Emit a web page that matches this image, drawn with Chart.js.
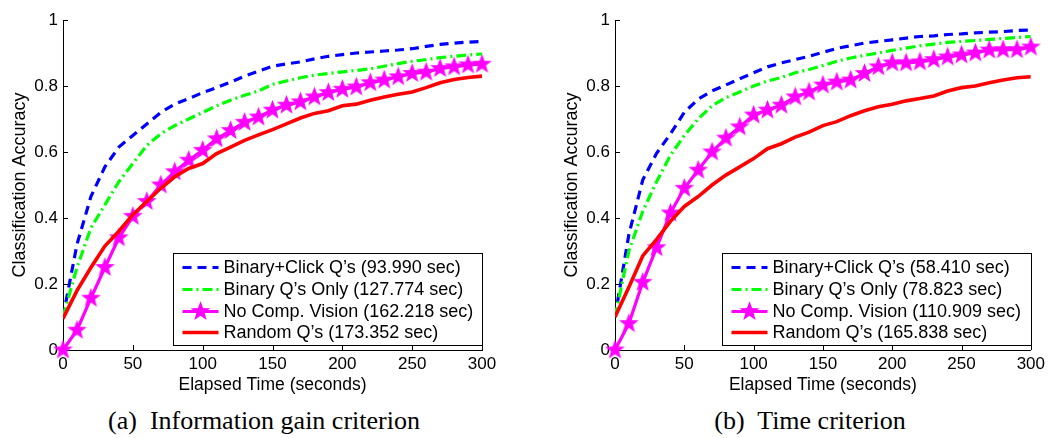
<!DOCTYPE html>
<html><head><meta charset="utf-8">
<script src="https://cdn.jsdelivr.net/npm/chart.js@4.4.1/dist/chart.umd.min.js"></script>
<style>
html,body{margin:0;padding:0;background:#fff;width:1049px;height:438px;overflow:hidden;position:relative}
.panel{position:absolute;top:0;height:400px}
.cap{position:absolute;font-family:"Liberation Serif","Times New Roman",serif;font-size:26px;color:#000;white-space:nowrap;transform:translateX(-50%);top:406px;line-height:30px}
</style></head><body>
<div class="panel" style="left:0;width:525px"><canvas id="c1" width="525" height="400"></canvas></div>
<div class="panel" style="left:525px;width:524px"><canvas id="c2" width="524" height="400"></canvas></div>
<div class="cap" style="left:264px">(a)&nbsp; Information gain criterion</div>
<div class="cap" style="left:810px">(b)&nbsp; Time criterion</div>
<script>
// ---- data ----
const times = [0,10,20,30,40,50,60,70,80,90,100,110,120,130,140,150,160,170,180,190,200,210,220,230,240,250,260,270,280,290,300];
const xTicks = [0,50,100,150,200,250,300];
const yTicks = [0,0.2,0.4,0.6,0.8,1];

// (a) Information gain criterion
const infoBinaryClick = [0.10,0.32,0.465,0.555,0.615,0.65,0.685,0.72,0.745,0.762,0.78,0.795,0.812,0.83,0.845,0.86,0.867,0.873,0.882,0.89,0.895,0.90,0.903,0.906,0.909,0.913,0.92,0.926,0.93,0.933,0.935];
const infoBinaryOnly = [0.10,0.25,0.37,0.44,0.51,0.565,0.62,0.655,0.68,0.70,0.72,0.74,0.757,0.772,0.785,0.805,0.815,0.825,0.833,0.838,0.843,0.847,0.852,0.86,0.868,0.875,0.88,0.886,0.89,0.894,0.897];
const infoNoVision = [0.0,0.06,0.157,0.25,0.34,0.405,0.45,0.50,0.54,0.575,0.605,0.64,0.665,0.69,0.706,0.727,0.742,0.752,0.767,0.78,0.79,0.797,0.81,0.818,0.828,0.838,0.842,0.853,0.858,0.864,0.866];
const infoRandom = [0.095,0.18,0.25,0.315,0.36,0.41,0.45,0.49,0.525,0.55,0.565,0.595,0.615,0.635,0.652,0.668,0.685,0.703,0.717,0.725,0.74,0.745,0.757,0.767,0.775,0.782,0.795,0.81,0.82,0.826,0.83];
const infoLabels = ["Binary+Click Q\u2019s (93.990 sec)","Binary Q\u2019s Only (127.774 sec)","No Comp. Vision (162.218 sec)","Random Q\u2019s (173.352 sec)"];

// (b) Time criterion
const timeBinaryClick = [0.10,0.35,0.515,0.596,0.655,0.72,0.76,0.785,0.803,0.822,0.84,0.858,0.87,0.88,0.89,0.902,0.914,0.922,0.93,0.935,0.94,0.945,0.95,0.952,0.956,0.958,0.961,0.963,0.965,0.968,0.97];
const timeBinaryOnly = [0.10,0.30,0.42,0.51,0.59,0.65,0.70,0.74,0.765,0.782,0.80,0.815,0.826,0.84,0.85,0.862,0.875,0.885,0.893,0.90,0.908,0.915,0.922,0.927,0.932,0.935,0.938,0.941,0.944,0.947,0.95];
const timeNoVision = [0.0,0.08,0.205,0.31,0.415,0.49,0.545,0.60,0.642,0.676,0.712,0.727,0.742,0.767,0.782,0.803,0.812,0.818,0.838,0.858,0.87,0.87,0.873,0.88,0.888,0.894,0.90,0.909,0.91,0.91,0.918];
const timeRandom = [0.10,0.19,0.285,0.335,0.39,0.435,0.465,0.50,0.53,0.555,0.58,0.61,0.625,0.645,0.66,0.68,0.692,0.71,0.725,0.737,0.745,0.755,0.762,0.77,0.785,0.795,0.80,0.81,0.818,0.825,0.828];
const timeLabels = ["Binary+Click Q\u2019s (58.410 sec)","Binary Q\u2019s Only (78.823 sec)","No Comp. Vision (110.909 sec)","Random Q\u2019s (165.838 sec)"];

// ---- rendering ----
const SANS = '"Liberation Sans", Arial, Helvetica, sans-serif';

function makeStar(r, color){
  const s = Math.ceil(r*2)+4;
  const c = document.createElement('canvas'); c.width = s; c.height = s;
  const g = c.getContext('2d');
  g.translate(s/2, s/2);
  g.beginPath();
  for (let i=0;i<10;i++){
    const rad = (i%2) ? r*0.42 : r;
    const a = -Math.PI/2 + i*Math.PI/5;
    g.lineTo(rad*Math.cos(a), rad*Math.sin(a));
  }
  g.closePath();
  g.fillStyle = color; g.fill();
  g.lineJoin = 'miter'; g.strokeStyle = color; g.lineWidth = 1.3; g.stroke();
  return c;
}
const star = makeStar(8.5, '#ff00ff');

function pts(arr){ return times.map((t,i)=>({x:t, y:arr[i]})); }

function datasets(a,b,c,d,labels){
  return [
    {label:labels[0], data:pts(a), borderColor:'#0000ff', borderWidth:3.2, borderDash:[9,6], pointRadius:0, tension:0, order:3, borderCapStyle:'butt'},
    {label:labels[1], data:pts(b), borderColor:'#00ff00', borderWidth:3.2, borderDash:[10,4,2,4], pointRadius:0, tension:0, order:2, borderCapStyle:'butt'},
    {label:labels[2], data:pts(c), borderColor:'#ff00ff', borderWidth:3.2, pointStyle:star, pointRadius:8, pointBackgroundColor:'#ff00ff', pointBorderColor:'#ff00ff', tension:0, order:1, clip:false},
    {label:labels[3], data:pts(d), borderColor:'#ff0000', borderWidth:3.6, pointRadius:0, tension:0, order:0}
  ];
}

const inTicks = {
  id:'inTicks',
  beforeDatasetsDraw(chart){
    const {ctx, chartArea:ca, scales:{x,y}} = chart;
    ctx.save(); ctx.strokeStyle='#000'; ctx.lineWidth=1; ctx.beginPath();
    xTicks.forEach(v=>{ const px=Math.round(x.getPixelForValue(v))+0.5; ctx.moveTo(px, ca.bottom); ctx.lineTo(px, ca.bottom-5); });
    yTicks.forEach(v=>{ const py=Math.round(y.getPixelForValue(v))+0.5; ctx.moveTo(ca.left, py); ctx.lineTo(ca.left+5, py); });
    ctx.stroke(); ctx.restore();
  }
};

const boxLegend = {
  id:'boxLegend',
  afterDraw(chart){
    const {ctx, chartArea:ca} = chart;
    const w = 309, h = 92;
    const bx = Math.round(ca.right - w) + 0.5, by = Math.round(ca.bottom - 5 - h) + 0.5;
    ctx.save();
    ctx.fillStyle = '#fff'; ctx.fillRect(bx, by, w, h);
    ctx.strokeStyle = '#000'; ctx.lineWidth = 1; ctx.strokeRect(bx, by, w, h);
    const rowY = [14, 36, 58, 79];
    chart.data.datasets.forEach((ds, i)=>{
      const cy = by + rowY[i];
      const x0 = bx + 9, x1 = bx + 45;
      ctx.save();
      ctx.strokeStyle = ds.borderColor; ctx.lineWidth = ds.borderWidth;
      ctx.setLineDash(ds.borderDash || []);
      ctx.beginPath(); ctx.moveTo(x0, cy); ctx.lineTo(x1, cy); ctx.stroke();
      ctx.restore();
      if (ds.pointStyle && typeof ds.pointStyle === 'object'){
        const im = ds.pointStyle;
        ctx.drawImage(im, (x0+x1)/2 - im.width/2, cy - im.height/2);
      }
      ctx.fillStyle = '#000'; ctx.font = '18px ' + SANS;
      ctx.textBaseline = 'middle'; ctx.textAlign = 'left';
      ctx.fillText(ds.label, bx + 50, cy + 1);
    });
    ctx.restore();
  }
};

function options(padLeft, padRight){
  const tickFont = {family:SANS, size:17};
  return {
    responsive:false, animation:false, devicePixelRatio:1,
    layout:{autoPadding:false, padding:{left:padLeft, right:padRight, top:20, bottom:0}},
    plugins:{legend:{display:false}, tooltip:{enabled:false}},
    scales:{
      x:{type:'linear', min:0, max:300,
         afterBuildTicks(s){ s.ticks = xTicks.map(v=>({value:v})); },
         ticks:{font:tickFont, color:'#000', padding:4, maxRotation:0, autoSkip:false},
         grid:{display:false, drawTicks:false}, border:{display:true, color:'#000', width:1},
         title:{display:true, text:'Elapsed Time (seconds)', font:{family:SANS, size:17.5}, color:'#000', padding:{top:0, bottom:4}},
         afterFit(s){ s.height = 50; }},
      y:{type:'linear', min:0, max:1,
         afterBuildTicks(s){ s.ticks = yTicks.map(v=>({value:v})); },
         ticks:{font:tickFont, color:'#000', padding:5, autoSkip:false,
                callback:(v)=> (v===0 ? '0' : v===1 ? '1' : v.toFixed(1))},
         grid:{display:false, drawTicks:false}, border:{display:true, color:'#000', width:1},
         title:{display:true, text:'Classification Accuracy', font:{family:SANS, size:18}, color:'#000', padding:{top:9, bottom:0}},
         afterFit(s){ s.width = 63; }}
    }
  };
}

new Chart(document.getElementById('c1'), {
  type:'line',
  data:{datasets:datasets(infoBinaryClick, infoBinaryOnly, infoNoVision, infoRandom, infoLabels)},
  options:options(0, 43),
  plugins:[inTicks, boxLegend]
});
new Chart(document.getElementById('c2'), {
  type:'line',
  data:{datasets:datasets(timeBinaryClick, timeBinaryOnly, timeNoVision, timeRandom, timeLabels)},
  options:options(27, 16),
  plugins:[inTicks, boxLegend]
});
</script>
</body></html>
